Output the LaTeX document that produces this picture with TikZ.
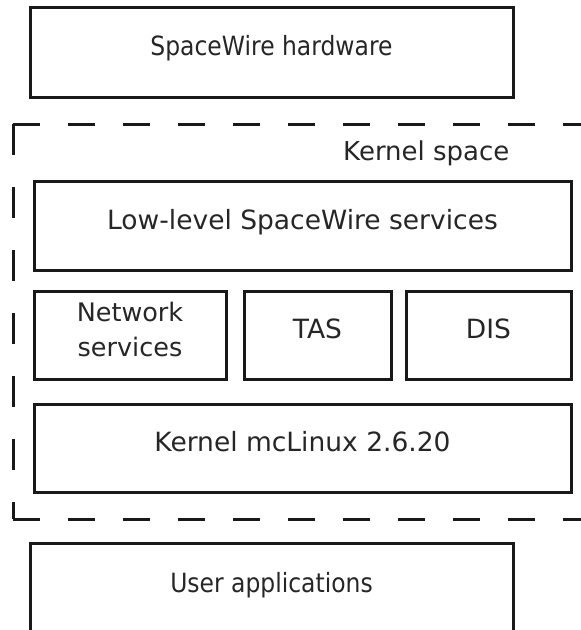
\documentclass[tikz,border=0pt]{standalone}
\usepackage{fontspec}
\setmainfont{DejaVu Sans}
\newfontfamily\narrowfont[FakeStretch=0.885]{DejaVu Sans}
\usetikzlibrary{positioning}

\tikzset{
  layer/.style={draw=black!90, line width=3pt, inner sep=0pt, outer sep=0pt,
    text height=15pt, text depth=8pt, align=center, anchor=north west,
    minimum height=89pt},
  inner/.style={font=\fontsize{26.5}{35}\selectfont},
  outer/.style={font=\narrowfont\fontsize{26.5}{35}\selectfont},
  kframe/.style={draw=black!90, line width=3pt, dash pattern=on 27pt off 28pt},
  kframev/.style={draw=black!90, line width=3pt, dash pattern=on 31pt off 32pt},
}

\begin{document}
\begin{tikzpicture}[x=1pt, y=-1pt, text={black!85}]
        \useasboundingbox (0,0) rectangle (581,630);
        \clip (0,0) rectangle (581,630);

        \node[layer, outer, minimum width=483pt, minimum height=90pt](hw) at (30,7) {SpaceWire hardware};

        % kernel space frame, runs off the right edge
        \coordinate (ktl) at (13,124);
        \coordinate (ktr) at (610,124);
        \coordinate (kbl) at (13,519);
        \coordinate (kbr) at (610,519);
        \draw [kframe] (ktl) -- (ktr) ;
        \draw [kframev] (ktl) -- (kbl) ;
        \draw [kframe] (kbl) -- (kbr) ;
        \node[font=\fontsize{26}{35}\selectfont, anchor=base east](kspace) at (513,160) {Kernel space};

        \node[layer, inner, minimum width=537pt](low) at (34,181) {Low-level SpaceWire services};
        \node[layer, font=\fontsize{25.5}{35}\selectfont, text height=50pt, minimum width=192pt, minimum height=88pt](net) at (34,291) {Network\\services};
        \node[layer, inner, minimum width=147pt, minimum height=88pt, right=18pt of net](tas) {TAS};
        \node[layer, inner, minimum width=165pt, minimum height=88pt, right=15pt of tas](dis) {DIS};
        \node[layer, inner, minimum width=537pt, minimum height=88pt](kern) at (34,404) {Kernel mcLinux 2.6.20};

        \node[layer, outer, minimum width=483pt, minimum height=91pt](user) at (30,543) {User applications};
\end{tikzpicture}
\end{document}
